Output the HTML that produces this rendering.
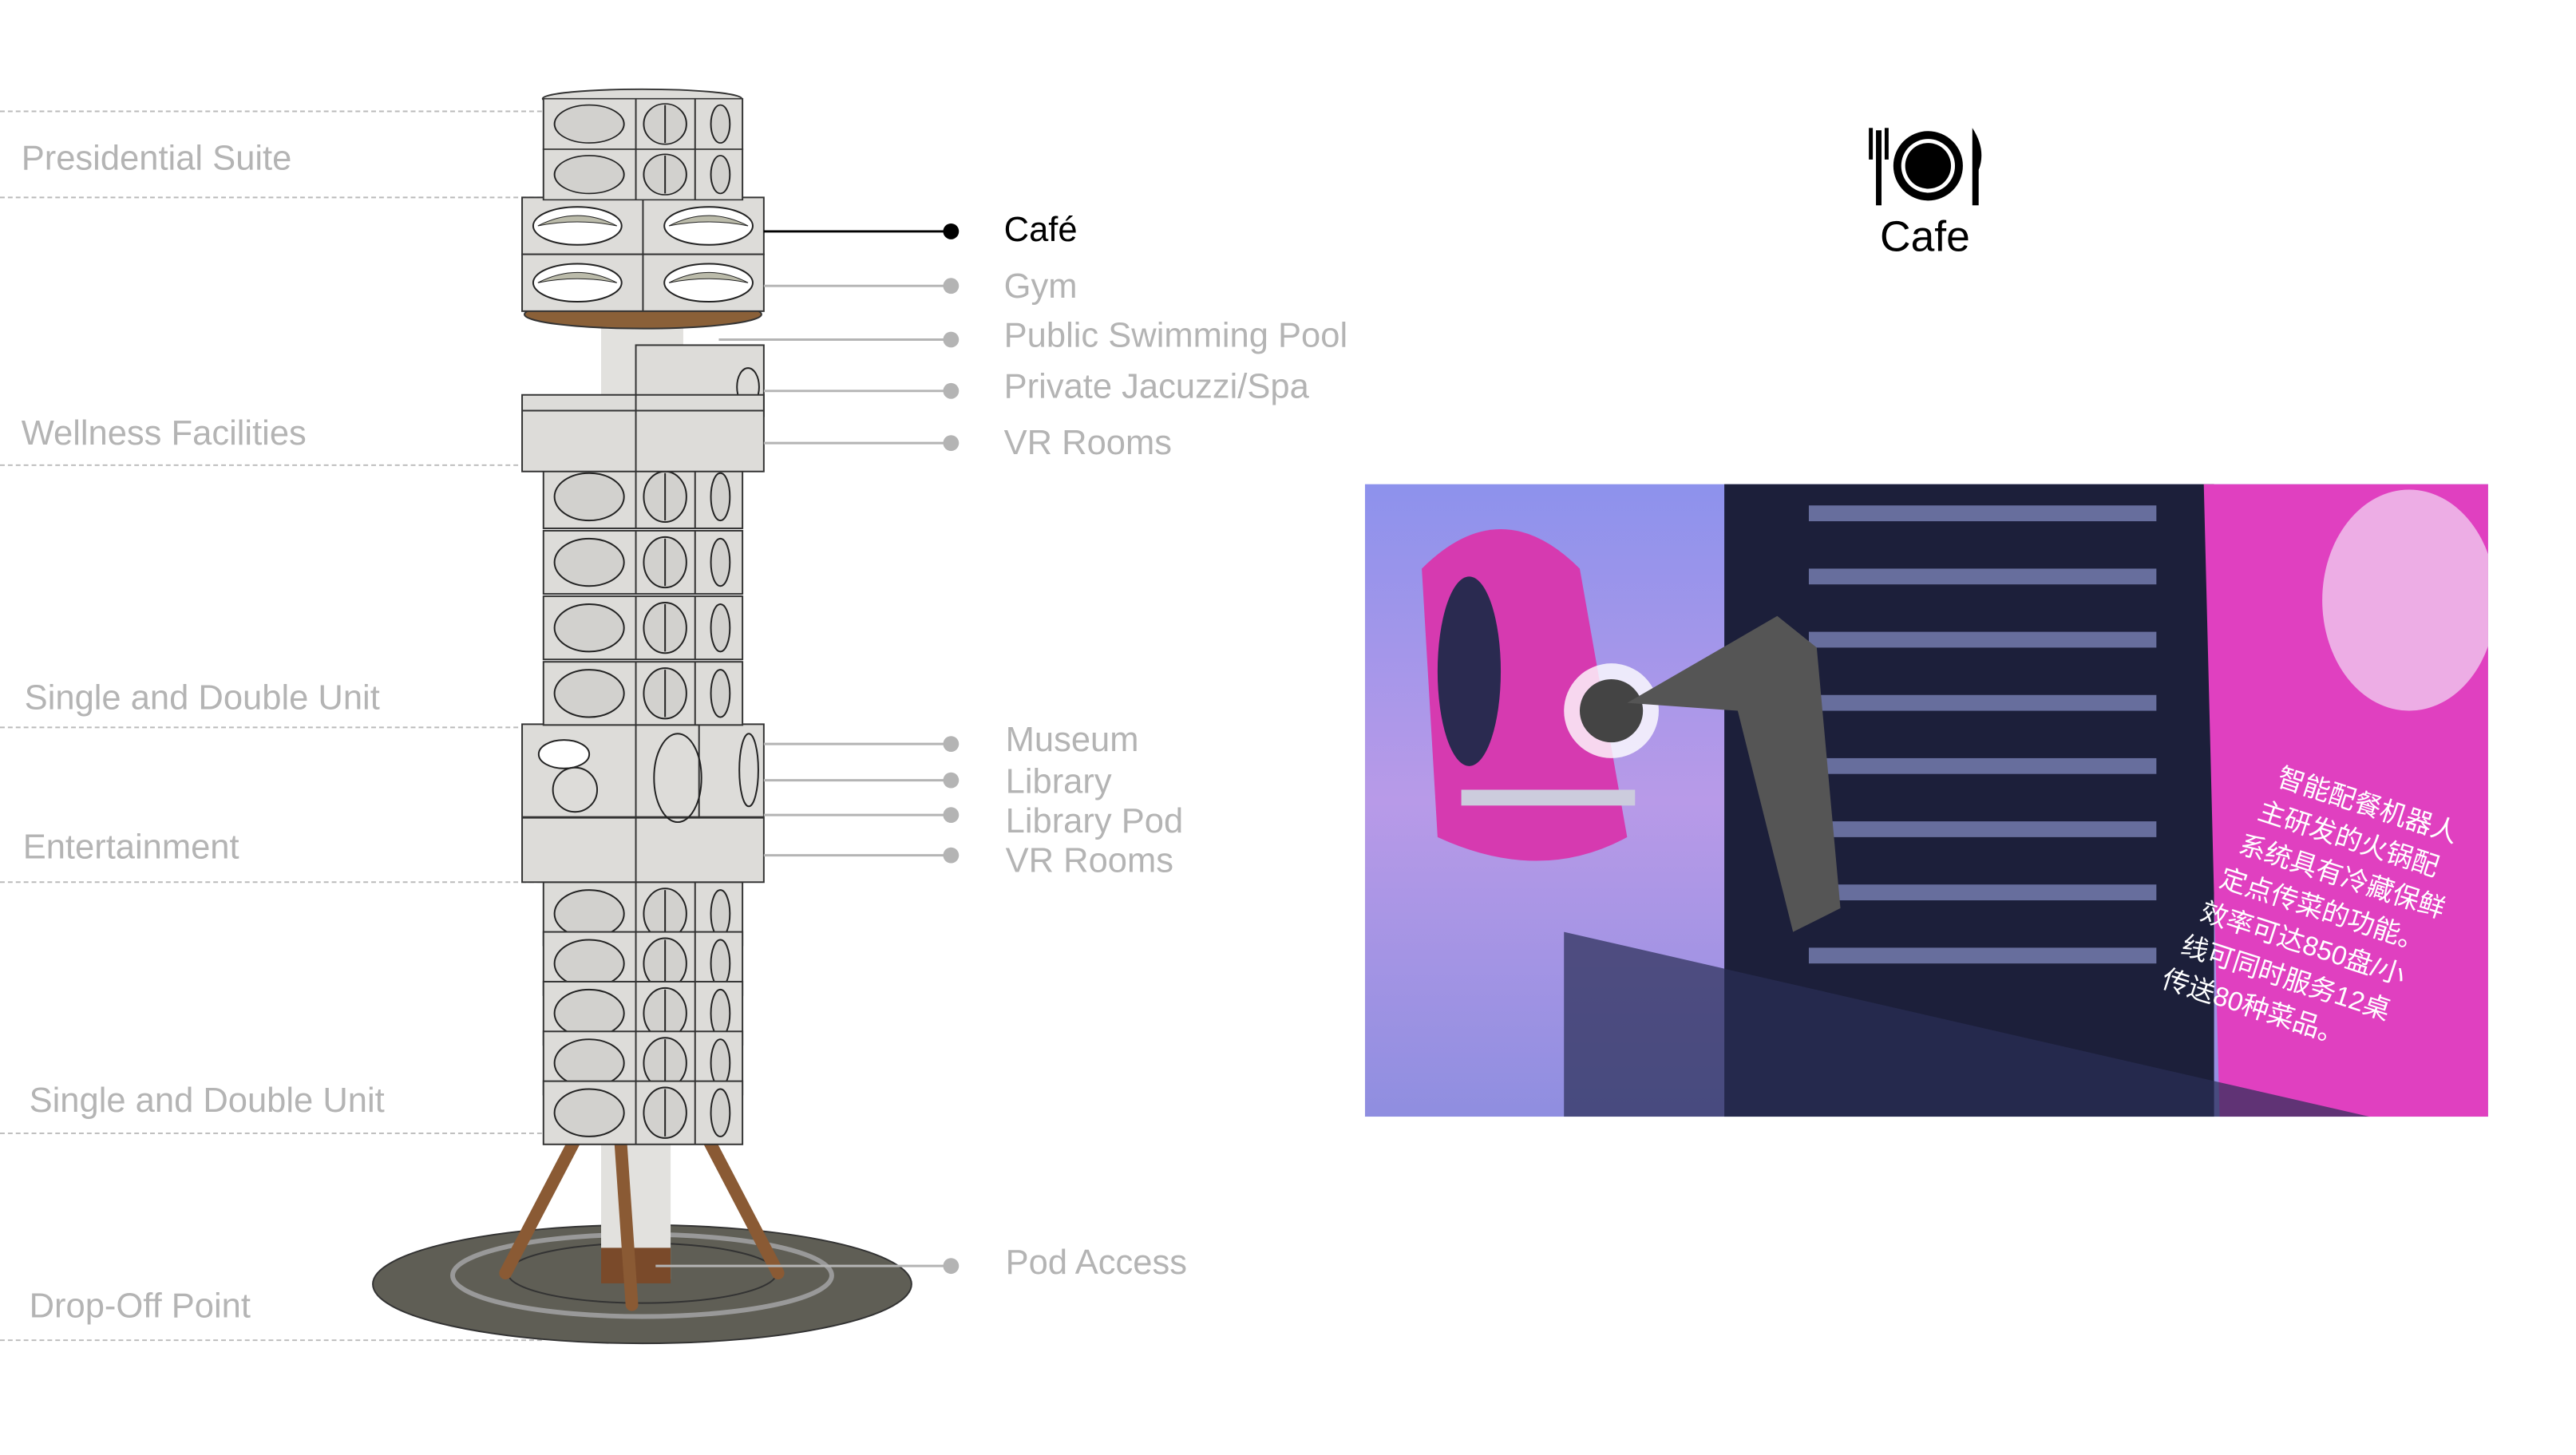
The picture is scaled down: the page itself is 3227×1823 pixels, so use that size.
<!DOCTYPE html>
<html><head><meta charset="utf-8"><style>
html,body{margin:0;padding:0;background:#fff;width:3227px;height:1823px;overflow:hidden}
svg{display:block}
.l{font-family:"Liberation Sans",sans-serif;font-size:44px;fill:#b4b4b4}
.r{font-family:"Liberation Sans",sans-serif;font-size:44px;fill:#b4b4b4}
</style></head><body>
<svg width="3227" height="1823" viewBox="0 0 3227 1823" xmlns="http://www.w3.org/2000/svg">
<defs>
<g id="row">
<rect x="0" y="0" width="252" height="80" fill="#dddcd9" stroke="#333" stroke-width="2"/>
<line x1="117" y1="0" x2="117" y2="80" stroke="#333" stroke-width="2"/>
<line x1="192" y1="0" x2="192" y2="80" stroke="#333" stroke-width="2"/>
<ellipse cx="58" cy="40" rx="44" ry="30" fill="#d2d1ce" stroke="#222" stroke-width="2"/>
<ellipse cx="154" cy="40" rx="27" ry="32" fill="#d2d1ce" stroke="#222" stroke-width="2"/>
<line x1="154" y1="10" x2="154" y2="70" stroke="#222" stroke-width="2"/>
<ellipse cx="224" cy="40" rx="12" ry="30" fill="#d2d1ce" stroke="#222" stroke-width="2"/>
</g>
<g id="crow">
<rect x="0" y="0" width="306" height="72" fill="#dddcd9" stroke="#333" stroke-width="2"/>
<line x1="153" y1="0" x2="153" y2="72" stroke="#333" stroke-width="2"/>
<ellipse cx="70" cy="36" rx="56" ry="24" fill="#fff" stroke="#222" stroke-width="2"/>
<path d="M20 36 Q70 10 120 36 Q70 26 20 36Z" fill="#bba" stroke="#222"/>
<ellipse cx="236" cy="36" rx="56" ry="24" fill="#fff" stroke="#222" stroke-width="2"/>
<path d="M186 36 Q236 10 286 36 Q236 26 186 36Z" fill="#bba" stroke="#222"/>
</g>
<linearGradient id="bg" x1="0" y1="0" x2="0" y2="1"><stop offset="0" stop-color="#8d92ec"/><stop offset="0.5" stop-color="#b89ae8"/><stop offset="1" stop-color="#8f8ee0"/></linearGradient>
<clipPath id="pc"><rect x="1728" y="613" width="1422" height="801"/></clipPath>
</defs>
<g transform="scale(0.9895)">
<!-- dashed lines -->
<g stroke="#bbb" stroke-width="2" stroke-dasharray="6,4">
<line x1="0" y1="141" x2="686" y2="141"/>
<line x1="0" y1="250" x2="686" y2="250"/>
<line x1="0" y1="589" x2="686" y2="589"/>
<line x1="0" y1="921" x2="686" y2="921"/>
<line x1="0" y1="1117" x2="686" y2="1117"/>
<line x1="0" y1="1435" x2="686" y2="1435"/>
<line x1="0" y1="1697" x2="686" y2="1697"/>
</g>
<text class="l" x="27" y="215">Presidential Suite</text>
<text class="l" x="27" y="563">Wellness Facilities</text>
<text class="l" x="31" y="898">Single and Double Unit</text>
<text class="l" x="29" y="1087">Entertainment</text>
<text class="l" x="37" y="1408">Single and Double Unit</text>
<text class="l" x="37" y="1668">Drop-Off Point</text>

<!-- base -->
<ellipse cx="813" cy="1626" rx="341" ry="75" fill="#5f5e55" stroke="#333" stroke-width="2"/>
<ellipse cx="813" cy="1615" rx="240" ry="52" fill="none" stroke="#999" stroke-width="6"/>
<ellipse cx="813" cy="1612" rx="170" ry="38" fill="none" stroke="#333" stroke-width="2"/>
<rect x="761" y="1430" width="88" height="190" fill="#e2e1de"/>
<rect x="761" y="1580" width="88" height="45" fill="#7a4a2a"/>
<g stroke="#8a5a34" stroke-width="16" stroke-linecap="round">
<line x1="735" y1="1430" x2="640" y2="1612"/>
<line x1="785" y1="1435" x2="800" y2="1652"/>
<line x1="890" y1="1430" x2="985" y2="1612"/>
</g>

<use href="#row" x="688" y="1117"/>
<use href="#row" x="688" y="1180"/>
<use href="#row" x="688" y="1243"/>
<use href="#row" x="688" y="1306"/>
<use href="#row" x="688" y="1369"/>
<!-- entertainment -->
<rect x="661" y="917" width="306" height="200" fill="#dddcd9" stroke="#333" stroke-width="2"/>
<line x1="661" y1="1035" x2="967" y2="1035" stroke="#333" stroke-width="3"/>
<line x1="805" y1="917" x2="805" y2="1117" stroke="#333" stroke-width="2"/>
<line x1="885" y1="917" x2="885" y2="1035" stroke="#333" stroke-width="2"/>
<ellipse cx="714" cy="955" rx="32" ry="18" fill="#fff" stroke="#222" stroke-width="2"/>
<ellipse cx="728" cy="1000" rx="28" ry="28" fill="none" stroke="#222" stroke-width="2"/>
<ellipse cx="858" cy="985" rx="30" ry="56" fill="none" stroke="#222" stroke-width="2"/>
<ellipse cx="948" cy="975" rx="12" ry="46" fill="none" stroke="#222" stroke-width="2"/>
<use href="#row" x="688" y="589"/>
<use href="#row" x="688" y="672"/>
<use href="#row" x="688" y="755"/>
<use href="#row" x="688" y="838"/>
<!-- wellness -->
<rect x="761" y="395" width="104" height="200" fill="#e2e1de"/>
<rect x="805" y="437" width="162" height="90" fill="#dddcd9" stroke="#333" stroke-width="2"/>
<ellipse cx="947" cy="490" rx="14" ry="24" fill="none" stroke="#222" stroke-width="2"/>
<rect x="661" y="500" width="306" height="97" fill="#dddcd9" stroke="#333" stroke-width="2"/>
<line x1="805" y1="500" x2="805" y2="597" stroke="#333" stroke-width="2"/>
<line x1="661" y1="520" x2="967" y2="520" stroke="#333" stroke-width="2"/>
<!-- cafe -->
<ellipse cx="814" cy="398" rx="150" ry="18" fill="#8a6038" stroke="#333" stroke-width="2"/>
<use href="#crow" x="661" y="250"/>
<use href="#crow" x="661" y="322"/>
<ellipse cx="813" cy="125" rx="126" ry="12" fill="#dddcd9" stroke="#333" stroke-width="2"/>
<g transform="translate(688,125) scale(1,0.8)"><use href="#row"/><use href="#row" y="80"/></g>

<!-- leaders -->
<g stroke="#b4b4b4" stroke-width="3">
<line x1="967" y1="362" x2="1204" y2="362"/>
<line x1="910" y1="430" x2="1204" y2="430"/>
<line x1="967" y1="495" x2="1204" y2="495"/>
<line x1="967" y1="561" x2="1204" y2="561"/>
<line x1="967" y1="942" x2="1204" y2="942"/>
<line x1="967" y1="988" x2="1204" y2="988"/>
<line x1="967" y1="1032" x2="1204" y2="1032"/>
<line x1="967" y1="1083" x2="1204" y2="1083"/>
<line x1="830" y1="1603" x2="1204" y2="1603"/>
</g>
<line x1="967" y1="293" x2="1204" y2="293" stroke="#000" stroke-width="3"/>
<g fill="#b4b4b4">
<circle cx="1204" cy="362" r="10"/><circle cx="1204" cy="430" r="10"/><circle cx="1204" cy="495" r="10"/><circle cx="1204" cy="561" r="10"/>
<circle cx="1204" cy="942" r="10"/><circle cx="1204" cy="988" r="10"/><circle cx="1204" cy="1032" r="10"/><circle cx="1204" cy="1083" r="10"/>
<circle cx="1204" cy="1603" r="10"/>
</g>
<circle cx="1204" cy="293" r="10" fill="#000"/>
<text class="r" x="1271" y="305" style="fill:#000">Café</text>
<text class="r" x="1271" y="377">Gym</text>
<text class="r" x="1271" y="439">Public Swimming Pool</text>
<text class="r" x="1271" y="504">Private Jacuzzi/Spa</text>
<text class="r" x="1271" y="575">VR Rooms</text>
<text class="r" x="1273" y="951">Museum</text>
<text class="r" x="1273" y="1004">Library</text>
<text class="r" x="1273" y="1054">Library Pod</text>
<text class="r" x="1273" y="1104">VR Rooms</text>
<text class="r" x="1273" y="1613">Pod Access</text>

<!-- cafe icon -->
<circle cx="2441" cy="210" r="44" fill="#000"/>
<circle cx="2441" cy="210" r="34" fill="#fff"/>
<circle cx="2441" cy="210" r="29" fill="#000"/>
<rect x="2375" y="165" width="7" height="95" fill="#000"/>
<rect x="2366" y="162" width="5" height="40" fill="#000"/><rect x="2386" y="162" width="5" height="40" fill="#000"/>
<path d="M2497 162 Q2515 190 2505 215 L2505 260 L2497 260Z" fill="#000"/>
<text x="2437" y="318" text-anchor="middle" font-family="Liberation Sans,sans-serif" font-size="54" fill="#000">Cafe</text>

<!-- photo -->
<g clip-path="url(#pc)">
<rect x="1728" y="613" width="1422" height="801" fill="url(#bg)"/>
<rect x="2183" y="613" width="620" height="801" fill="#1c1f3a"/>
<g fill="#8890c8" opacity="0.7">
<rect x="2290" y="640" width="440" height="20"/><rect x="2290" y="720" width="440" height="20"/><rect x="2290" y="800" width="440" height="20"/>
<rect x="2290" y="880" width="440" height="20"/><rect x="2290" y="960" width="440" height="20"/><rect x="2290" y="1040" width="440" height="20"/>
<rect x="2290" y="1120" width="440" height="20"/><rect x="2290" y="1200" width="440" height="20"/>
</g>
<polygon points="2790,613 3150,613 3150,1414 2810,1414" fill="#e040c0"/>
<ellipse cx="3050" cy="760" rx="110" ry="140" fill="#f0c8ee" opacity="0.8"/>
<path d="M1800 720 Q1900 620 2000 720 L2060 1060 Q1950 1120 1820 1060Z" fill="#d63ab0"/>
<ellipse cx="1860" cy="850" rx="40" ry="120" fill="#2a2a50"/>
<circle cx="2040" cy="900" r="60" fill="#fff" opacity="0.8"/><circle cx="2040" cy="900" r="40" fill="#444"/>
<path d="M2060 890 L2250 780 L2300 820 L2330 1150 L2270 1180 L2200 900Z" fill="#555"/>
<rect x="1850" y="1000" width="220" height="20" fill="#ccd"/>
<path d="M1980 1180 L3000 1414 L1980 1414Z" fill="#2a2d55" opacity="0.7"/>
<g font-family="Liberation Sans,'Noto Sans CJK SC',sans-serif" font-size="34" fill="#fff" transform="rotate(18 2900 1000)">
<text x="2880" y="1000">智能配餐机器人</text>
<text x="2870" y="1048">主研发的火锅配</text>
<text x="2860" y="1096">系统具有冷藏保鲜</text>
<text x="2850" y="1144">定点传菜的功能。</text>
<text x="2840" y="1192">效率可达850盘/小</text>
<text x="2830" y="1240">线可同时服务12桌</text>
<text x="2820" y="1288">传送80种菜品。</text>
</g>
</g>
</g>
</svg>
</body></html>
